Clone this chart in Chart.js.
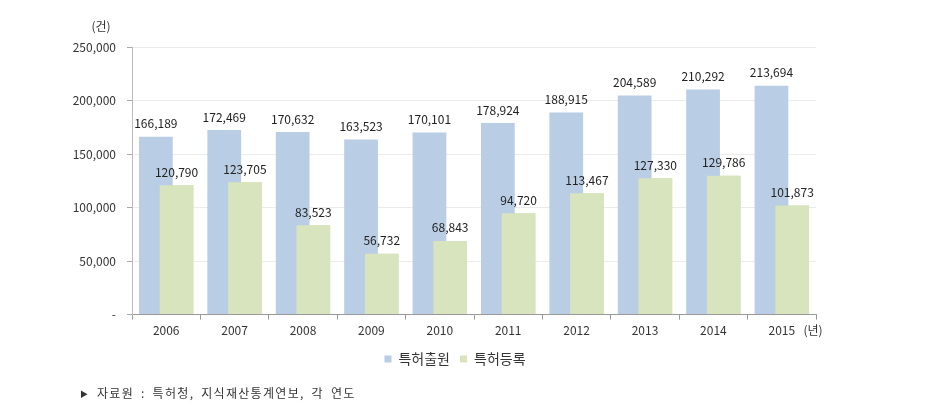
<!DOCTYPE html>
<html>
<head>
<meta charset="utf-8">
<script src="https://cdn.jsdelivr.net/npm/chart.js@4/dist/chart.umd.min.js"></script>
<style>
  html, body { margin: 0; padding: 0; background: #fff; }
  #wrap { position: relative; width: 925px; height: 411px; }
  #source { position: absolute; left: 80px; top: 384px; font: 12px 'Noto Sans CJK KR', sans-serif; letter-spacing: 1.3px; word-spacing: 3px; color: #333; white-space: pre; }
  #source .tri { font-size: 8px; vertical-align: 1px; letter-spacing: 0; margin-right: 2px; }
</style>
</head>
<body>
<div id="wrap">
  <canvas id="c" width="925" height="411"></canvas>
  <div id="source"><span class="tri">▶</span> 자료원 : 특허청, 지식재산통계연보, 각 연도</div>
</div>
<script>
const years = ['2006','2007','2008','2009','2010','2011','2012','2013','2014','2015'];
const applications = [166189,172469,170632,163523,170101,178924,188915,204589,210292,213694];
const registrations = [120790,123705,83523,56732,68843,94720,113467,127330,129786,101873];
const seriesNames = ['특허출원','특허등록'];
const yTicks = [0,50000,100000,150000,200000,250000];
const yUnit = '(건)';
const xUnit = '(년)';

const FONT = "'Noto Sans CJK KR', sans-serif";
const fmt = v => v.toLocaleString('en-US');

const overlayPlugin = {
  id: 'overlay',
  afterDatasetsDraw(chart) {
    const ctx = chart.ctx;
    // draw the second series on top of the first (overlapping bars)
    ctx.save();
    const ca = chart.chartArea;
    ctx.beginPath(); ctx.rect(ca.left, ca.top - 40, ca.right - ca.left, ca.bottom - ca.top + 40); ctx.clip();
    chart.getDatasetMeta(1).controller.draw();
    ctx.restore();
    // value labels
    ctx.save();
    ctx.font = '12px ' + FONT;
    ctx.fillStyle = '#222';
    ctx.textAlign = 'center';
    ctx.textBaseline = 'middle';
    chart.data.datasets.forEach((ds, di) => {
      const meta = chart.getDatasetMeta(di);
      meta.data.forEach((el, i) => {
        ctx.fillText(fmt(ds.data[i]), el.x, el.y - 13);
      });
    });
    ctx.restore();
  },
  afterDraw(chart) {
    const ctx = chart.ctx;
    const y = chart.scales.y, x = chart.scales.x;
    ctx.save();
    ctx.font = '12px ' + FONT;
    ctx.fillStyle = '#333';
    ctx.textAlign = 'center';
    ctx.textBaseline = 'middle';
    ctx.fillText(yUnit, 101, y.top - 21);
    ctx.fillText(xUnit, x.right - 3, x.top + 16);
    ctx.restore();
  }
};

new Chart(document.getElementById('c'), {
  type: 'bar',
  data: {
    labels: years,
    datasets: [
      { label: seriesNames[0], data: applications, backgroundColor: '#b9cde5' },
      { label: seriesNames[1], data: registrations, backgroundColor: '#d7e4bd' }
    ]
  },
  options: {
    responsive: false,
    animation: false,
    events: [],
    categoryPercentage: 0.605,
    barPercentage: 1.63,
    layout: { padding: { left: 68, right: 83, top: 47, bottom: 35 } },
    plugins: {
      legend: {
        position: 'bottom',
        labels: {
          boxWidth: 7, boxHeight: 7, padding: 10,
          color: '#333',
          font: { family: FONT, size: 14 }
        }
      },
      tooltip: { enabled: false }
    },
    scales: {
      x: {
        grid: { offset: true, drawOnChartArea: false, tickLength: 5, tickColor: '#999' },
        border: { color: '#999' },
        ticks: { color: '#333', padding: 4, font: { family: FONT, size: 12 } }
      },
      y: {
        min: 0, max: 250000,
        afterFit(scale) { scale.width = 64; },
        afterBuildTicks(scale) { scale.ticks = yTicks.map(v => ({ value: v })); },
        grid: { color: '#ebebeb', tickLength: 5, tickColor: '#aaa' },
        border: { color: '#bbb' },
        ticks: {
          color: '#333', padding: 11,
          font: { family: FONT, size: 12 },
          callback: v => v === 0 ? '-' : fmt(v)
        }
      },
      spacer: {
        type: 'linear', position: 'right', display: true,
        afterFit(scale) { scale.width = 26; },
        grid: { display: false, drawTicks: false },
        border: { display: false },
        ticks: { display: false }
      }
    }
  },
  plugins: [overlayPlugin]
});
</script>
</body>
</html>
